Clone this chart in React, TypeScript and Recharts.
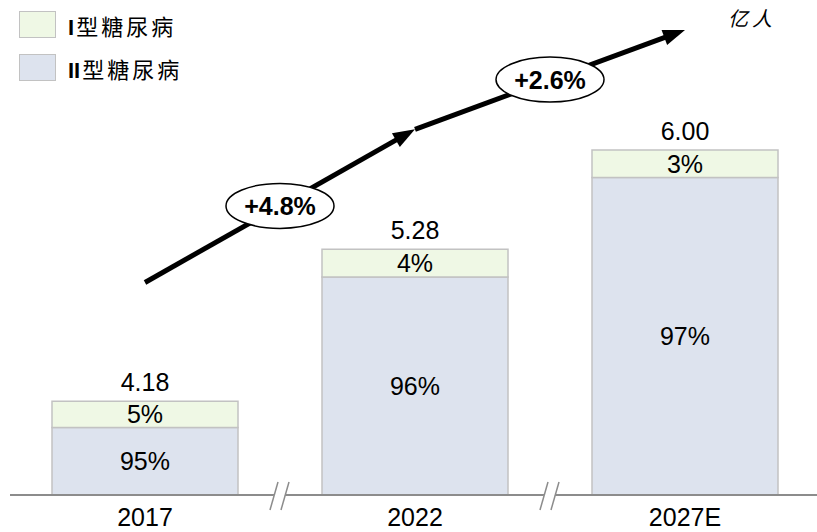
import React from 'react';
import { BarChart, Bar, XAxis, YAxis, LabelList, ReferenceLine } from 'recharts';

const years = ['2017', '2022', '2027E'];
const totals = [4.18, 5.28, 6.0];
// size of the type I segment as drawn (亿人)
const typeIValues = [0.19, 0.2, 0.2];
const typeIShares = ['5%', '4%', '3%'];
const typeIIShares = ['95%', '96%', '97%'];
const seriesNames = ['I型糖尿病', 'II型糖尿病'];
const cagrLabels = ['+4.8%', '+2.6%'];
// level (亿人) the growth arrow passes at each year
const arrowLevels = [5.04, 6.15, 6.87];
const unitLabel = '亿人';

const W = 820;
const H = 532;
const AXIS_H = 37;
const PLOT_BOTTOM = H - AXIS_H;

const typeIColor = '#eff8e5';
const typeIIColor = '#dde3ee';
const edgeColor = '#c2c2c2';
const axisColor = '#8c8c8c';
const FONT = "Arial, 'Liberation Sans', sans-serif";
const CJK = "'Noto Sans CJK SC', sans-serif";
const FS = 25;

const data = years.map((year, i) => ({
  year,
  typeI: typeIValues[i],
  typeII: +(totals[i] - typeIValues[i]).toFixed(2),
  total: totals[i].toFixed(2),
  s1: typeIShares[i],
  s2: typeIIShares[i],
}));

function box(props: any) {
  const vb = props.viewBox ?? props;
  return { x: +vb.x, y: +vb.y, w: +vb.width, h: +vb.height };
}

const TotalLabel = (props: any) => {
  const { x, y, w } = box(props);
  return (
    <text x={x + w / 2} y={y - 10} textAnchor="middle" fontSize={FS} fontFamily={FONT} fill="#000">
      {props.value}
    </text>
  );
};

const TypeILabel = (props: any) => {
  const { x, y, w, h } = box(props);
  return (
    <text x={x + w / 2} y={y + h / 2 + 9} textAnchor="middle" fontSize={FS} fontFamily={FONT} fill="#000">
      {props.value}
    </text>
  );
};

const TypeIILabel = (props: any) => {
  const { x, y, w } = box(props);
  return (
    <text x={x + w / 2} y={(y + PLOT_BOTTOM) / 2 + 9} textAnchor="middle" fontSize={FS} fontFamily={FONT} fill="#000">
      {props.value}
    </text>
  );
};

const YearTick = (props: any) => {
  const { x, y, payload, index, visibleTicksCount, width } = props;
  const half = width && visibleTicksCount ? width / visibleTicksCount / 2 : 135;
  const bx = x + half;
  return (
    <g>
      <text x={x} y={y + 31} textAnchor="middle" fontSize={FS} fontFamily={FONT} fill="#000">
        {payload.value}
      </text>
      {index < (visibleTicksCount ?? 3) - 1 && (
        <g>
          <polygon
            points={`${bx - 5},${y - 3} ${bx + 6},${y - 3} ${bx + 4},${y + 3} ${bx - 7},${y + 3}`}
            fill="#fff"
          />
          <line x1={bx - 10} y1={y + 15} x2={bx - 2} y2={y - 13} stroke={axisColor} strokeWidth={1.5} />
          <line x1={bx + 1} y1={y + 15} x2={bx + 9} y2={y - 13} stroke={axisColor} strokeWidth={1.5} />
        </g>
      )}
    </g>
  );
};

function growthArrow(label: string) {
  return (props: any) => {
    const { x1, y1, x2, y2 } = props;
    const dx = x2 - x1;
    const dy = y2 - y1;
    const len = Math.sqrt(dx * dx + dy * dy);
    const ux = dx / len;
    const uy = dy / len;
    const headL = 22;
    const headW = 8;
    const bx = x2 - ux * headL;
    const by = y2 - uy * headL;
    const mx = (x1 + x2) / 2;
    const my = (y1 + y2) / 2;
    return (
      <g>
        <line x1={x1} y1={y1} x2={bx + ux * 2} y2={by + uy * 2} stroke="#000" strokeWidth={5} />
        <polygon
          points={`${x2},${y2} ${bx - uy * headW},${by + ux * headW} ${bx + uy * headW},${by - ux * headW}`}
          fill="#000"
        />
        <ellipse cx={mx} cy={my} rx={54} ry={22.5} fill="#fff" stroke="#000" strokeWidth={1.5} />
        <text x={mx} y={my + 9} textAnchor="middle" fontSize={25} fontWeight="bold" fontFamily={FONT} fill="#000">
          {label}
        </text>
      </g>
    );
  };
}

const legendItems = [
  { name: seriesNames[0], color: typeIColor, top: 10 },
  { name: seriesNames[1], color: typeIIColor, top: 53 },
];

export default function App() {
  return (
    <div style={{ position: 'absolute', left: 0, top: 0, width: 817, height: 532, overflow: 'hidden', background: '#fff' }}>
      <BarChart width={W} height={H} data={data} margin={{ top: 12, right: 0, bottom: 0, left: 10 }} barSize={186}>
        <YAxis hide domain={[3.5, 7]} allowDataOverflow type="number" />
        <XAxis
          dataKey="year"
          height={AXIS_H}
          tickSize={0}
          tickMargin={0}
          tickLine={false}
          axisLine={{ stroke: axisColor, strokeWidth: 2 }}
          tick={<YearTick />}
          interval={0}
        />
        <Bar dataKey="typeII" stackId="a" fill={typeIIColor} stroke={edgeColor} strokeWidth={1.5} isAnimationActive={false}>
          <LabelList dataKey="s2" content={<TypeIILabel />} />
        </Bar>
        <Bar dataKey="typeI" stackId="a" fill={typeIColor} stroke={edgeColor} strokeWidth={1.5} isAnimationActive={false}>
          <LabelList dataKey="s1" content={<TypeILabel />} />
          <LabelList dataKey="total" content={<TotalLabel />} />
        </Bar>
        <ReferenceLine
          segment={[{ x: years[0], y: arrowLevels[0] }, { x: years[1], y: arrowLevels[1] }]}
          shape={growthArrow(cagrLabels[0])}
          ifOverflow="visible"
        />
        <ReferenceLine
          segment={[{ x: years[1], y: arrowLevels[1] }, { x: years[2], y: arrowLevels[2] }]}
          shape={growthArrow(cagrLabels[1])}
          ifOverflow="visible"
        />
      </BarChart>
      {legendItems.map((item) => {
        const roman = item.name.match(/^I+/)?.[0] ?? '';
        return (
          <div key={item.name} style={{ position: 'absolute', left: 19, top: item.top, display: 'flex', alignItems: 'center' }}>
            <div style={{ width: 37, height: 27, background: item.color, border: `1.5px solid ${edgeColor}`, boxSizing: 'border-box' }} />
            <span style={{ marginLeft: 12, fontSize: 22, fontFamily: CJK, letterSpacing: 3, color: '#000', lineHeight: 1, marginTop: 4 }}>
              <span style={{ fontFamily: FONT, fontWeight: 'bold', letterSpacing: 0, marginRight: 2 }}>{roman}</span>
              {item.name.slice(roman.length)}
            </span>
          </div>
        );
      })}
      <div style={{ position: 'absolute', left: 728, top: 8, fontSize: 20, fontFamily: CJK, fontStyle: 'italic', letterSpacing: 4, color: '#000', lineHeight: 1 }}>
        {unitLabel}
      </div>
    </div>
  );
}
